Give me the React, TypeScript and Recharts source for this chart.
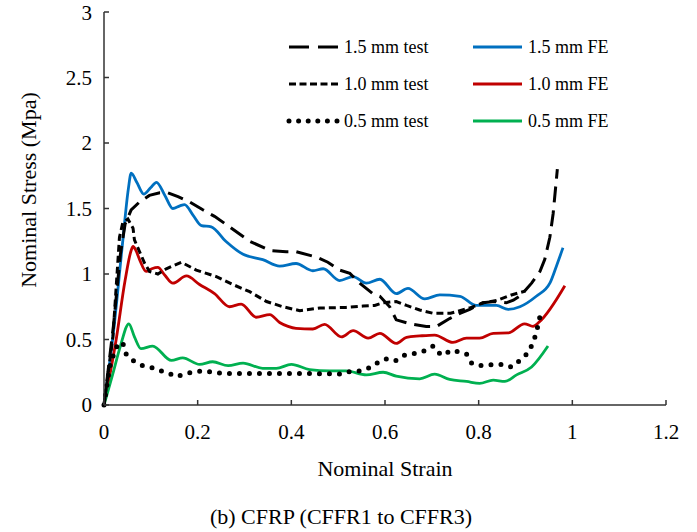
import { LineChart, Line, XAxis, YAxis } from 'recharts';

// strain / stress pairs
const test15: [number, number][] = [
  [0, 0], [0.02, 0.6], [0.035, 1.15], [0.045, 1.38], [0.058, 1.49], [0.076, 1.55], [0.097, 1.6],
  [0.119, 1.62], [0.136, 1.62], [0.158, 1.59], [0.183, 1.55], [0.211, 1.49], [0.236, 1.44],
  [0.268, 1.36], [0.311, 1.25], [0.354, 1.18], [0.389, 1.17], [0.41, 1.17], [0.453, 1.13],
  [0.478, 1.09], [0.503, 1.03], [0.525, 1.005], [0.546, 0.93], [0.574, 0.85], [0.589, 0.83],
  [0.61, 0.75], [0.624, 0.65], [0.653, 0.62], [0.688, 0.6], [0.71, 0.6], [0.738, 0.66],
  [0.76, 0.7], [0.781, 0.73], [0.809, 0.78], [0.834, 0.79], [0.859, 0.78], [0.874, 0.8],
  [0.891, 0.84], [0.913, 0.93], [0.931, 1.02], [0.941, 1.11], [0.952, 1.28], [0.959, 1.46],
  [0.968, 1.8],
];

const test10: [number, number][] = [
  [0, 0], [0.019, 0.52], [0.033, 1.28], [0.04, 1.39], [0.051, 1.42], [0.062, 1.35], [0.065, 1.26],
  [0.076, 1.17], [0.087, 1.08], [0.097, 1.02], [0.115, 1.0], [0.133, 1.04], [0.165, 1.09],
  [0.197, 1.03], [0.24, 0.98], [0.275, 0.92], [0.311, 0.865], [0.347, 0.79], [0.382, 0.75],
  [0.418, 0.72], [0.461, 0.74], [0.517, 0.745], [0.553, 0.755], [0.578, 0.76], [0.596, 0.78],
  [0.624, 0.79], [0.646, 0.76], [0.674, 0.725], [0.703, 0.7], [0.74, 0.7], [0.78, 0.74],
  [0.81, 0.78], [0.84, 0.8], [0.87, 0.84], [0.9, 0.87],
];

const test05: [number, number][] = [
  [0, 0], [0.012, 0.29], [0.019, 0.37], [0.03, 0.47], [0.04, 0.475], [0.047, 0.39], [0.065, 0.33],
  [0.083, 0.3], [0.108, 0.28], [0.122, 0.26], [0.14, 0.24], [0.154, 0.216], [0.172, 0.236],
  [0.193, 0.254], [0.215, 0.26], [0.236, 0.247], [0.261, 0.24], [0.3, 0.24], [0.35, 0.24],
  [0.4, 0.24], [0.45, 0.24], [0.503, 0.236], [0.521, 0.254], [0.546, 0.26], [0.571, 0.29],
  [0.587, 0.33], [0.606, 0.356], [0.624, 0.34], [0.642, 0.38], [0.66, 0.39], [0.685, 0.415],
  [0.703, 0.45], [0.72, 0.38], [0.745, 0.42], [0.76, 0.4], [0.774, 0.39], [0.785, 0.32],
  [0.802, 0.3], [0.838, 0.31], [0.856, 0.31], [0.87, 0.29], [0.888, 0.34], [0.906, 0.4],
  [0.916, 0.476], [0.923, 0.55], [0.928, 0.63], [0.933, 0.71],
];

const fe15: [number, number][] = [
  [0, 0], [0.02, 0.55], [0.04, 1.25], [0.052, 1.65], [0.058, 1.77], [0.07, 1.7], [0.085, 1.61],
  [0.1, 1.66], [0.112, 1.7], [0.13, 1.6], [0.147, 1.5], [0.162, 1.52], [0.172, 1.53], [0.19, 1.45],
  [0.208, 1.37], [0.229, 1.36], [0.26, 1.25], [0.297, 1.15], [0.339, 1.11], [0.375, 1.06],
  [0.41, 1.08], [0.446, 1.025], [0.468, 1.04], [0.503, 0.95], [0.532, 0.98], [0.56, 0.93],
  [0.589, 0.96], [0.624, 0.85], [0.649, 0.89], [0.685, 0.81], [0.717, 0.84], [0.76, 0.83],
  [0.795, 0.76], [0.838, 0.76], [0.863, 0.73], [0.888, 0.75], [0.923, 0.83], [0.952, 0.93],
  [0.966, 1.06], [0.98, 1.2],
];

const fe10: [number, number][] = [
  [0, 0], [0.026, 0.5], [0.045, 0.95], [0.058, 1.18], [0.062, 1.21], [0.068, 1.18], [0.076, 1.11],
  [0.09, 1.02], [0.102, 1.04], [0.115, 1.05], [0.13, 0.99], [0.147, 0.93], [0.176, 0.985],
  [0.204, 0.92], [0.236, 0.85], [0.268, 0.75], [0.293, 0.77], [0.325, 0.67], [0.354, 0.69],
  [0.375, 0.63], [0.393, 0.6], [0.41, 0.585], [0.446, 0.58], [0.471, 0.616], [0.507, 0.52],
  [0.532, 0.567], [0.564, 0.51], [0.589, 0.547], [0.624, 0.47], [0.646, 0.517], [0.674, 0.527],
  [0.706, 0.534], [0.745, 0.478], [0.774, 0.51], [0.802, 0.51], [0.831, 0.547], [0.863, 0.55],
  [0.898, 0.62], [0.916, 0.6], [0.93, 0.636], [0.984, 0.91],
];

const fe05: [number, number][] = [
  [0, 0], [0.019, 0.24], [0.035, 0.45], [0.053, 0.62], [0.065, 0.52], [0.079, 0.43], [0.104, 0.45],
  [0.144, 0.34], [0.168, 0.36], [0.204, 0.31], [0.232, 0.33], [0.265, 0.3], [0.297, 0.32],
  [0.339, 0.28], [0.368, 0.28], [0.4, 0.31], [0.439, 0.27], [0.482, 0.26], [0.517, 0.26],
  [0.56, 0.23], [0.596, 0.25], [0.624, 0.22], [0.674, 0.2], [0.706, 0.235], [0.738, 0.195],
  [0.774, 0.18], [0.802, 0.165], [0.831, 0.19], [0.856, 0.18], [0.881, 0.23], [0.913, 0.29],
  [0.948, 0.45],
];

const xTicks = [0, 0.2, 0.4, 0.6, 0.8, 1, 1.2];
const yTicks = [0, 0.5, 1, 1.5, 2, 2.5, 3];

const FONT = 'Liberation Serif';
const toPts = (arr: [number, number][]) => arr.map(([x, y]) => ({ x, y }));

const legendRows = [
  { label: '1.5 mm test', dash: '20 9', width: 3, cap: 'butt', color: '#000' },
  { label: '1.0 mm test', dash: '7 3.5', width: 3, cap: 'butt', color: '#000' },
  { label: '0.5 mm test', dash: '0 9.6', width: 5, cap: 'round', color: '#000' },
];
const legendFe = [
  { label: '1.5 mm FE', color: '#0070C0' },
  { label: '1.0 mm FE', color: '#C00000' },
  { label: '0.5 mm FE', color: '#00B050' },
];

export default function App() {
  const tickStyle = { fill: '#000', fontSize: 21, fontFamily: FONT };
  return (
    <div style={{ position: 'absolute', left: 0, top: 0, width: 697, height: 532, background: '#fff' }}>
      <LineChart width={697} height={532} margin={{ top: 12, right: 31, bottom: 0, left: 0 }}>
        <XAxis
          type="number"
          dataKey="x"
          domain={[0, 1.2]}
          ticks={xTicks}
          height={127}
          stroke="#333"
          strokeWidth={1.5}
          tickSize={-5}
          tickMargin={24}
          tick={tickStyle}
          allowDuplicatedCategory={false}
        />
        <YAxis
          type="number"
          domain={[0, 3]}
          ticks={yTicks}
          width={104}
          stroke="#333"
          strokeWidth={1.5}
          tickSize={-5}
          tickMargin={17}
          tick={tickStyle}
        />
        <Line data={toPts(fe15)} dataKey="y" type="monotone" stroke="#0070C0" strokeWidth={2.8} dot={false} activeDot={false} isAnimationActive={false} />
        <Line data={toPts(fe10)} dataKey="y" type="monotone" stroke="#C00000" strokeWidth={2.8} dot={false} activeDot={false} isAnimationActive={false} />
        <Line data={toPts(fe05)} dataKey="y" type="monotone" stroke="#00B050" strokeWidth={2.8} dot={false} activeDot={false} isAnimationActive={false} />
        <Line data={toPts(test15)} dataKey="y" type="linear" stroke="#000" strokeWidth={3} strokeDasharray="16 8" dot={false} activeDot={false} isAnimationActive={false} />
        <Line data={toPts(test10)} dataKey="y" type="linear" stroke="#000" strokeWidth={3} strokeDasharray="7 4" dot={false} activeDot={false} isAnimationActive={false} />
        <Line data={toPts(test05)} dataKey="y" type="linear" stroke="#000" strokeWidth={5} strokeDasharray="0 10" strokeLinecap="round" dot={false} activeDot={false} isAnimationActive={false} />
      </LineChart>

      <svg width={697} height={532} style={{ position: 'absolute', left: 0, top: 0, pointerEvents: 'none' }}>
        {legendRows.map((r, i) => (
          <g key={r.label}>
            <line x1={289} x2={r.cap === 'round' ? 340 : 338} y1={47 + i * 37} y2={47 + i * 37}
              stroke={r.color} strokeWidth={r.width} strokeDasharray={r.dash} strokeLinecap={r.cap as any} />
            <text x={344} y={47 + i * 37} dominantBaseline="central" fontFamily={FONT} fontSize={18} fill="#000">{r.label}</text>
          </g>
        ))}
        {legendFe.map((r, i) => (
          <g key={r.label}>
            <line x1={473} x2={522} y1={47 + i * 37} y2={47 + i * 37} stroke={r.color} strokeWidth={2.8} />
            <text x={528} y={47 + i * 37} dominantBaseline="central" fontFamily={FONT} fontSize={18} fill="#000">{r.label}</text>
          </g>
        ))}
        <text x={385} y={468} textAnchor="middle" dominantBaseline="central" fontFamily={FONT} fontSize={22} fill="#000">Nominal Strain</text>
        <text x={341} y={516} textAnchor="middle" dominantBaseline="central" fontFamily={FONT} fontSize={22} fill="#000">(b) CFRP (CFFR1 to CFFR3)</text>
        <text x={28} y={190} textAnchor="middle" dominantBaseline="central" fontFamily={FONT} fontSize={22} fill="#000"
          transform="rotate(-90 28 190)">Nominal Stress (Mpa)</text>
      </svg>
    </div>
  );
}
